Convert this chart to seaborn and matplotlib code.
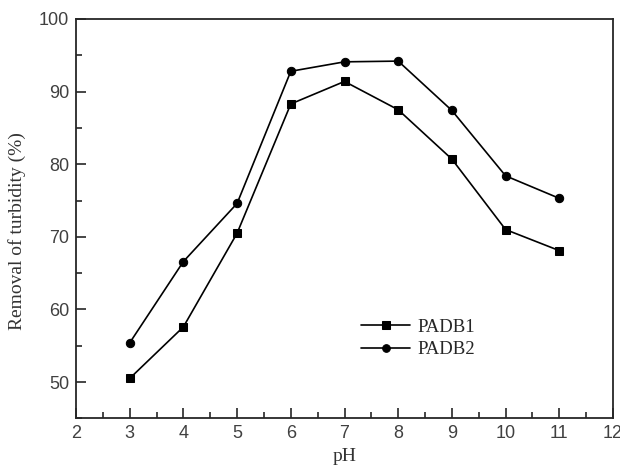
import seaborn as sns
import matplotlib.pyplot as plt
import pandas as pd
from matplotlib.ticker import MultipleLocator

# Data
ph = [3, 4, 5, 6, 7, 8, 9, 10, 11]
padb1 = [50.5, 57.6, 70.5, 88.3, 91.4, 87.5, 80.7, 71.0, 68.1]
padb2 = [55.4, 66.6, 74.6, 92.8, 94.1, 94.2, 87.4, 78.4, 75.3]

df = pd.DataFrame({'pH': ph * 2,
                   'Removal': padb1 + padb2,
                   'Series': ['PADB1'] * len(ph) + ['PADB2'] * len(ph)})

sns.set_theme(style="white")
plt.rcParams['font.family'] = ['Liberation Sans', 'DejaVu Sans']

fig = plt.figure(figsize=(6.2, 4.69), dpi=100)
ax = fig.add_axes([0.1226, 0.108, 0.8661, 0.8515])

sns.lineplot(data=df, x='pH', y='Removal', hue='Series', style='Series',
             palette=['black', 'black'], markers=['s', 'o'], dashes=False,
             markersize=6, markeredgecolor='black', linewidth=1.2, ax=ax)

ax.set_xlim(2, 12)
ax.set_ylim(45, 100)
ax.xaxis.set_major_locator(MultipleLocator(1))
ax.xaxis.set_minor_locator(MultipleLocator(0.5))
ax.set_yticks([50, 60, 70, 80, 90, 100])
ax.yaxis.set_minor_locator(MultipleLocator(5))

ax.tick_params(which='both', direction='in', color='0.15', width=1.2,
               labelsize=13, labelcolor='0.25', bottom=True, left=True,
               top=False, right=False)
ax.tick_params(which='major', length=7, pad=5)
ax.tick_params(which='minor', length=4)

for axis in ['top', 'bottom', 'left', 'right']:
    ax.spines[axis].set_linewidth(1.3)
    ax.spines[axis].set_color('0.15')

ax.set_xlabel('pH', family='Liberation Serif', fontsize=14, color='0.2', labelpad=4)
ax.set_ylabel('Removal of turbidity (%)', family='Liberation Serif', fontsize=14,
              color='0.2')
ax.yaxis.set_label_coords(-0.094, 0.47)

leg = ax.legend(loc='upper left', bbox_to_anchor=(0.5, 0.292), frameon=False,
                prop={'family': 'Liberation Serif', 'size': 13.5},
                handlelength=2.6, labelspacing=0.3, handletextpad=0.4)
for line in leg.get_lines():
    line.set_markersize(5.5)
for t in leg.get_texts():
    t.set_color('0.15')

plt.savefig('out.png', dpi=100)
